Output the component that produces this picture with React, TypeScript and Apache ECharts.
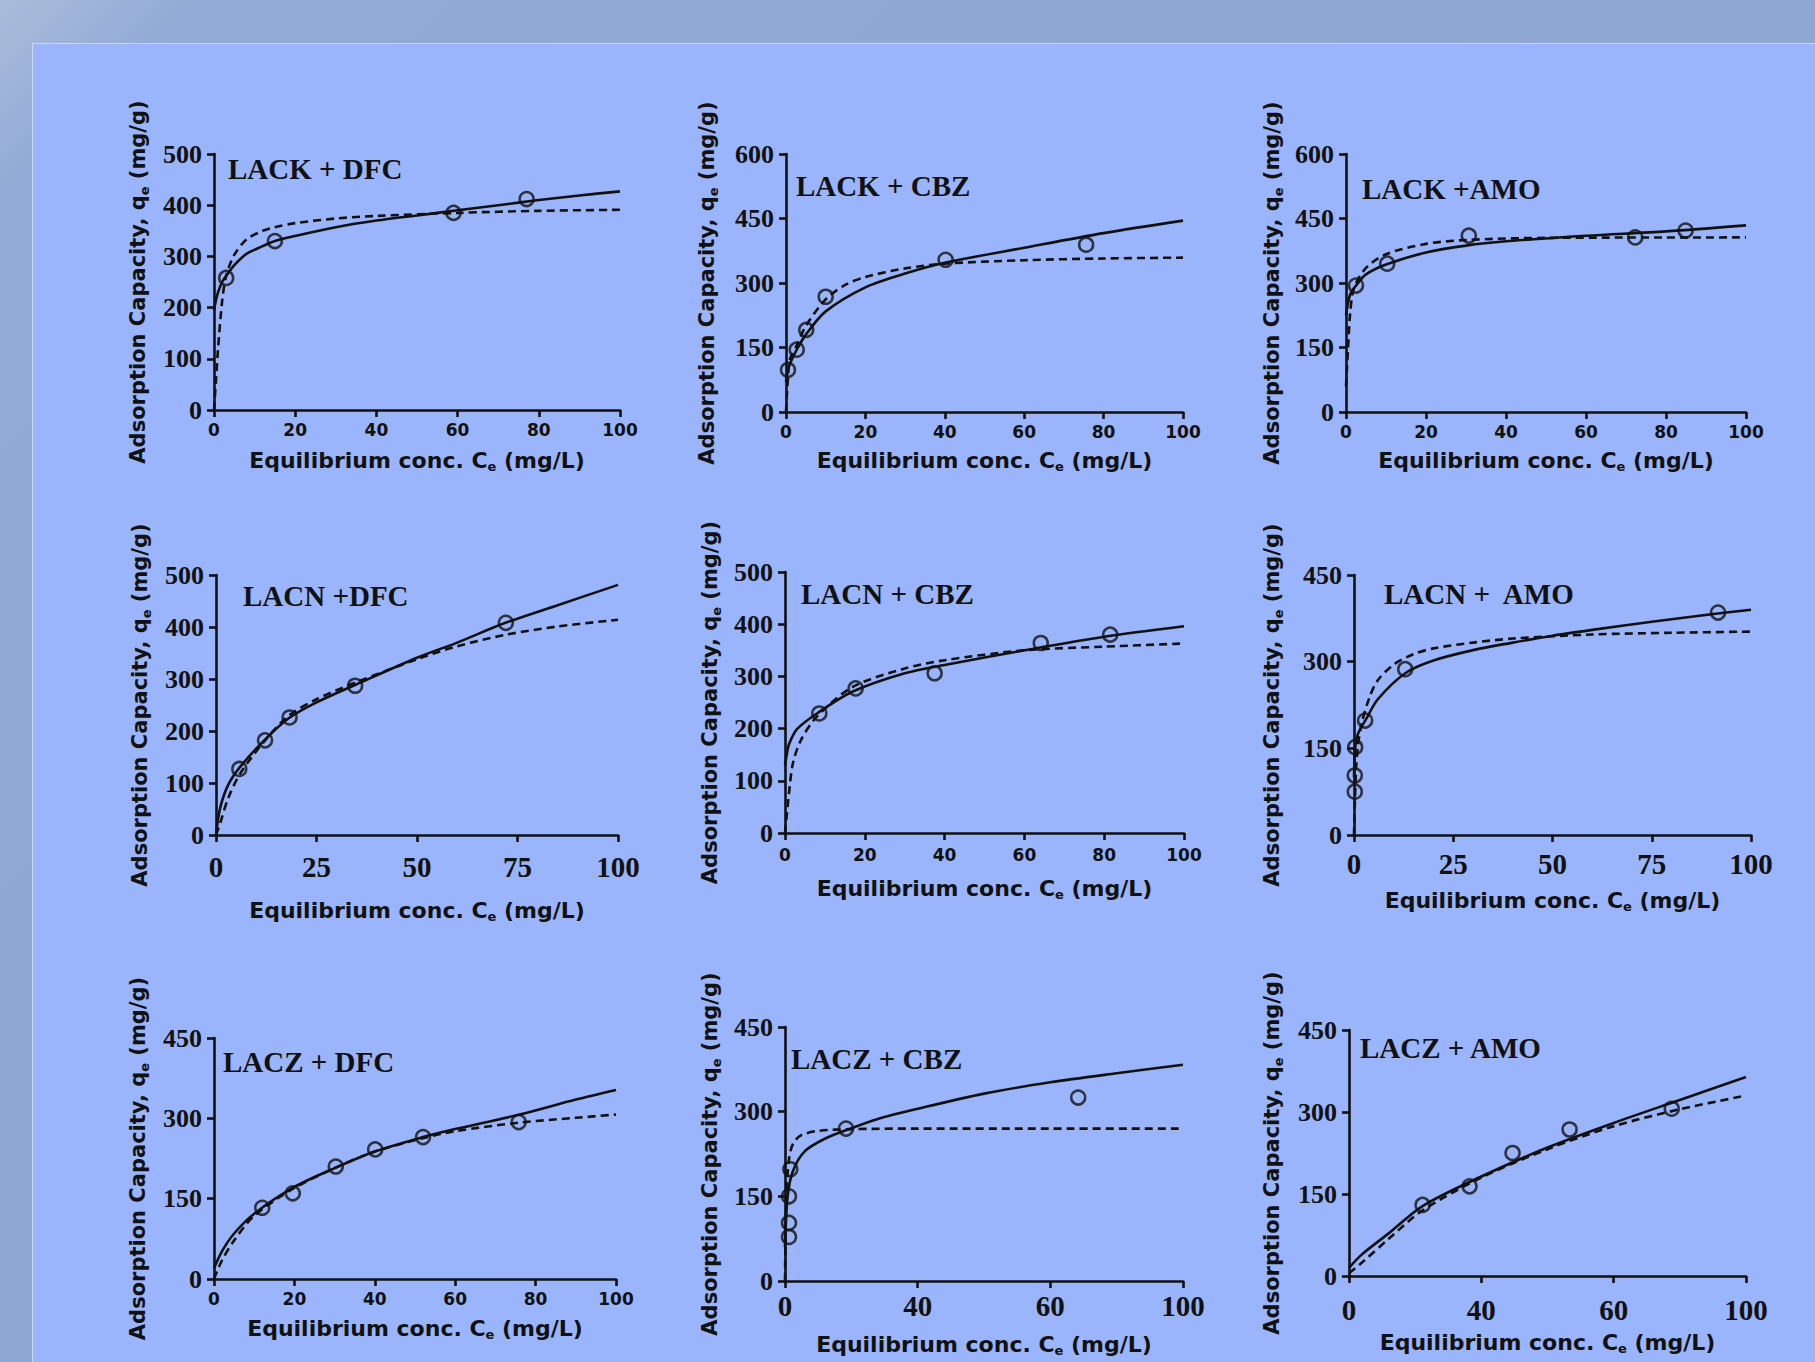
import React, { useEffect, useRef } from "react";
import * as echarts from "echarts";

const W = 1815;
const H = 1362;

// ---------- DATA ----------
const panelTitles = [
  "LACK + DFC", "LACK + CBZ", "LACK +AMO",
  "LACN +DFC", "LACN + CBZ", "LACN +  AMO",
  "LACZ + DFC", "LACZ + CBZ", "LACZ + AMO",
];

const yMaxes = [500, 600, 600, 500, 500, 450, 450, 450, 450];
const ySteps = [100, 150, 150, 100, 100, 150, 150, 150, 150];
const xSteps = [20, 20, 20, 25, 20, 25, 20, 1, 1];
const xMaxes = [100, 100, 100, 100, 100, 100, 100, 3, 3];
// Bottom row (CBZ, AMO) tick labels are evenly spaced but read 0, 40, 60, 100
const xLabelsZ = ["0", "40", "60", "100"];

// LACK + DFC
const pts1 = [[3, 258], [15, 330], [59, 385], [77, 412]];
const solid1 = [[0, 195], [0.5, 215], [1, 230], [2, 250], [3, 262], [5, 283], [8, 305], [12, 320], [15, 330], [20, 340], [30, 357], [40, 370], [50, 380], [60, 390], [70, 400], [80, 410], [90, 419], [100, 427]];
const dash1 = [[0, 0], [0.5, 60], [1, 120], [2, 212], [3, 262], [5, 303], [8, 333], [12, 350], [15, 357], [20, 365], [30, 374], [40, 379], [60, 385], [80, 389], [100, 391]];

// LACK + CBZ
const pts2 = [[0.5, 98], [2.7, 145], [5.1, 191], [10, 268], [40.2, 354], [75.6, 389]];
const solid2 = [[0, 70], [0.5, 98], [1, 112], [2.7, 145], [5, 180], [10, 234], [20, 290], [30, 322], [40, 347], [60, 382], [80, 416], [100, 445]];
const dash2 = [[0, 0], [0.5, 80], [1, 123], [2.7, 155], [5, 200], [10, 262], [15, 296], [20, 314], [30, 334], [40, 345], [60, 353], [80, 357], [100, 359]];

// LACK + AMO
const pts3 = [[2.5, 294], [10.3, 345], [30.7, 410], [72.3, 406], [84.9, 422]];
const solid3 = [[0, 225], [1, 272], [2.5, 294], [5, 320], [10, 343], [20, 371], [30, 387], [40, 397], [60, 410], [80, 420], [100, 434]];
const dash3 = [[0, 60], [0.5, 146], [1, 225], [2, 288], [5, 335], [10, 367], [20, 391], [30, 400], [50, 405], [100, 406]];

// LACN + DFC
const pts4 = [[5.8, 127], [12.2, 182], [18.3, 226], [34.6, 287], [72.1, 408]];
const solid4 = [[0, 0], [1, 51], [3, 96], [6, 131], [12, 182], [18, 224], [25, 255], [35, 290], [50, 341], [60, 370], [72, 408], [85, 442], [100, 481]];
const dash4 = [[0, 0], [1, 22], [3, 70], [6, 118], [12, 180], [18, 229], [25, 261], [35, 294], [50, 338], [60, 363], [72, 385], [85, 401], [100, 414]];

// LACN + CBZ
const pts5 = [[8.6, 229], [17.7, 277], [37.5, 306], [64.1, 364], [81.5, 380]];
const solid5 = [[0, 130], [0.5, 153], [1, 170], [3, 199], [8, 229], [17, 271], [30, 306], [40, 322], [60, 350], [80, 376], [100, 396]];
const dash5 = [[0, 0], [1, 76], [2, 134], [4, 178], [8, 223], [17, 280], [30, 315], [40, 331], [60, 350], [80, 357], [100, 363]];

// LACN + AMO
const pts6 = [[0.2, 75], [0.2, 103], [0.3, 152], [2.8, 198], [12.9, 287], [91.7, 385]];
const solid6 = [[0, 100], [0.3, 150], [1, 175], [3, 200], [6, 235], [12.9, 280], [20, 302], [30, 320], [40, 333], [50, 345], [60, 355], [75, 369], [90, 382], [100, 390]];
const dash6 = [[0, 0], [0.5, 110], [1, 155], [2, 195], [4, 240], [6, 268], [10, 295], [15, 313], [20, 323], [30, 333], [40, 340], [60, 347], [80, 350], [100, 352]];

// LACZ + DFC
const pts7 = [[12, 133], [19.6, 160], [30.3, 210], [40.1, 242], [52, 265], [75.8, 293]];
const solid7 = [[0, 20], [2, 52], [5, 85], [10, 122], [20, 172], [30, 207], [40, 238], [52, 265], [60, 280], [76, 307], [90, 335], [100, 353]];
const dash7 = [[0, 0], [2, 35], [5, 72], [10, 118], [20, 170], [30, 207], [40, 238], [52, 263], [60, 276], [76, 292], [90, 301], [100, 307]];

// LACZ + CBZ (x in tick-slot units)
const pts8 = [[0.03, 78], [0.03, 103], [0.03, 150], [0.04, 198], [0.46, 270], [2.21, 325]];
const solid8 = [[0, 60], [0.02, 150], [0.06, 195], [0.15, 230], [0.3, 252], [0.47, 268], [0.7, 287], [1, 305], [1.5, 332], [2, 352], [2.5, 368], [3, 383]];
const dash8 = [[0, 0], [0.01, 150], [0.03, 215], [0.06, 243], [0.12, 258], [0.25, 266], [0.5, 269], [1, 270], [2, 270], [3, 270]];

// LACZ + AMO (x in tick-slot units)
const pts9 = [[0.556, 130], [0.911, 164], [1.236, 225], [1.667, 268], [2.439, 306]];
const solid9 = [[0, 15], [0.1, 40], [0.3, 78], [0.556, 128], [1, 182], [1.5, 235], [2, 280], [2.5, 322], [3, 364]];
const dash9 = [[0, 5], [0.1, 25], [0.3, 68], [0.556, 120], [1, 180], [1.5, 232], [2, 274], [2.5, 305], [3, 330]];

const pointSets = [pts1, pts2, pts3, pts4, pts5, pts6, pts7, pts8, pts9];
const solidSets = [solid1, solid2, solid3, solid4, solid5, solid6, solid7, solid8, solid9];
const dashSets = [dash1, dash2, dash3, dash4, dash5, dash6, dash7, dash8, dash9];

// ---------- LAYOUT ----------
type Lay = { l: number; t: number; r: number; b: number; yGap: number; xGap: number; xMargin: number; serifX: boolean; tx: number; ty: number };
const layouts: Lay[] = [
  { l: 214, t: 154, r: 620, b: 410, yGap: 64, xGap: 38, xMargin: 11, serifX: false, tx: 228, ty: 169 },
  { l: 786, t: 154, r: 1183, b: 412, yGap: 67, xGap: 36, xMargin: 11, serifX: false, tx: 796, ty: 186 },
  { l: 1346, t: 154, r: 1746, b: 412, yGap: 62, xGap: 36, xMargin: 11, serifX: false, tx: 1362, ty: 189 },
  { l: 216, t: 575, r: 618, b: 835, yGap: 64, xGap: 63, xMargin: 17, serifX: true, tx: 243, ty: 596 },
  { l: 785, t: 572, r: 1184, b: 833, yGap: 63, xGap: 43, xMargin: 13, serifX: false, tx: 801, ty: 594 },
  { l: 1354, t: 575, r: 1751, b: 835, yGap: 70, xGap: 53, xMargin: 14, serifX: true, tx: 1384, ty: 594 },
  { l: 214, t: 1038, r: 616, b: 1279, yGap: 64, xGap: 37, xMargin: 11, serifX: false, tx: 223, ty: 1062 },
  { l: 785, t: 1027, r: 1183, b: 1281, yGap: 63, xGap: 51, xMargin: 10, serifX: true, tx: 791, ty: 1059 },
  { l: 1349, t: 1030, r: 1746, b: 1276, yGap: 65, xGap: 54, xMargin: 19, serifX: true, tx: 1360, ty: 1048 },
];

const INK = "#111111";
const SERIF = '"Liberation Serif", "Times New Roman", serif';
const SANS = '"DejaVu Sans", sans-serif';

function buildOption() {
  const grid: any[] = [];
  const xAxis: any[] = [];
  const yAxis: any[] = [];
  const series: any[] = [];
  const graphic: any[] = [];

  const subRich = {
    s: { fontFamily: SANS, fontWeight: "bold", fontSize: 13, color: INK, padding: [12, 0, 0, 0], lineHeight: 13 },
  };

  layouts.forEach((L, i) => {
    grid.push({ left: L.l, top: L.t, width: L.r - L.l, height: L.b - L.t, containLabel: false });
    const zRow = i >= 7;
    xAxis.push({
      type: "value",
      gridIndex: i,
      min: 0,
      max: xMaxes[i],
      interval: xSteps[i],
      name: "Equilibrium conc. C{s|e} (mg/L)",
      nameLocation: "middle",
      nameGap: L.xGap,
      nameTextStyle: { fontFamily: SANS, fontWeight: "bold", fontSize: 22, color: INK, lineHeight: 25, rich: subRich },
      axisLine: { show: true, onZero: false, lineStyle: { color: INK, width: 2.6 } },
      axisTick: { show: true, inside: false, length: 7, lineStyle: { color: INK, width: 2.6 } },
      splitLine: { show: false },
      axisLabel: {
        margin: L.xMargin,
        color: INK,
        fontWeight: "bold",
        fontFamily: L.serifX ? SERIF : SANS,
        fontSize: L.serifX ? 29 : 17,
        formatter: zRow ? (v: number) => xLabelsZ[Math.round(v)] : (v: number) => String(v),
      },
    });
    yAxis.push({
      type: "value",
      gridIndex: i,
      min: 0,
      max: yMaxes[i],
      interval: ySteps[i],
      name: "Adsorption Capacity, q{s|e} (mg/g)",
      nameLocation: "middle",
      nameRotate: 90,
      nameGap: L.yGap,
      nameTextStyle: { fontFamily: SANS, fontWeight: "bold", fontSize: 21, color: INK, lineHeight: 24, rich: subRich },
      axisLine: { show: true, onZero: false, lineStyle: { color: INK, width: 2.6 } },
      axisTick: { show: true, inside: false, length: 7, lineStyle: { color: INK, width: 2.6 } },
      splitLine: { show: false },
      axisLabel: { margin: 12, color: INK, fontWeight: "bold", fontFamily: SERIF, fontSize: 26 },
    });
    series.push({
      type: "line",
      xAxisIndex: i,
      yAxisIndex: i,
      data: dashSets[i],
      showSymbol: false,
      smooth: 0.3,
      lineStyle: { color: INK, width: 2.6, type: [8, 5] },
      z: 3,
      silent: true,
    });
    series.push({
      type: "line",
      xAxisIndex: i,
      yAxisIndex: i,
      data: solidSets[i],
      showSymbol: false,
      smooth: 0.3,
      lineStyle: { color: INK, width: 2.6 },
      z: 4,
      silent: true,
    });
    series.push({
      type: "scatter",
      xAxisIndex: i,
      yAxisIndex: i,
      data: pointSets[i],
      symbol: "circle",
      symbolSize: 14,
      itemStyle: { color: "rgba(0,0,0,0)", borderColor: INK, borderWidth: 2.5 },
      z: 5,
      silent: true,
    });
    graphic.push({
      type: "text",
      x: L.tx,
      y: L.ty,
      silent: true,
      style: {
        text: panelTitles[i],
        font: `bold 29px ${SERIF}`,
        fill: INK,
        verticalAlign: "middle",
        align: "left",
      },
    });
  });

  return {
    animation: false,
    backgroundColor: "transparent",
    grid,
    xAxis,
    yAxis,
    series,
    graphic,
  };
}

export default function App() {
  const ref = useRef<HTMLDivElement>(null);
  useEffect(() => {
    if (!ref.current) return;
    const chart = echarts.init(ref.current, undefined, { renderer: "svg", width: W, height: H });
    chart.setOption(buildOption());
    return () => chart.dispose();
  }, []);

  return (
    <div
      style={{
        position: "absolute",
        left: 0,
        top: 0,
        width: W,
        height: H,
        overflow: "hidden",
        background: "linear-gradient(135deg, #AABCDB 0%, #93ABD6 6%, #8EA7D3 40%, #8CA5D2 100%)",
      }}
    >
      <div
        style={{
          position: "absolute",
          left: 32,
          top: 43,
          width: W - 32,
          height: H - 43,
          background: "#9AB5FB",
          borderTop: "1px solid #C9D6F3",
          borderLeft: "1px solid #C9D6F3",
          boxSizing: "border-box",
        }}
      />
      <div ref={ref} style={{ position: "absolute", left: 0, top: 0, width: W, height: H }} />
    </div>
  );
}
